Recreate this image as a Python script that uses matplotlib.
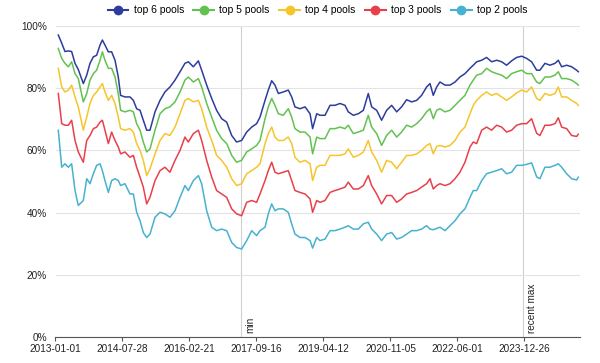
import numpy as np
import matplotlib
matplotlib.use("Agg")
import matplotlib.pyplot as plt
import matplotlib.ticker as mticker
from matplotlib.lines import Line2D

plt.rcParams['font.family'] = ['Liberation Sans', 'DejaVu Sans']

START = np.datetime64("2013-01-01")
END = np.datetime64("2025-04-14")

# days after 2013-01-01 for each sample
days = [24, 53, 81, 110, 138, 167, 195, 238, 267, 295, 324, 352, 381, 401, 423,
        452, 480, 509, 537, 557, 594, 637, 666, 694, 723, 751, 780, 808,
        851, 894, 936, 979, 1022, 1065, 1107, 1136, 1179, 1222, 1250, 1293, 1336,
        1378, 1421, 1464, 1507, 1549, 1592, 1635, 1678, 1720,
        1749, 1792, 1820, 1849, 1877, 1906, 1948, 1991, 2020, 2048, 2091, 2134,
        2177, 2199, 2234, 2262, 2305, 2348, 2390, 2433, 2476, 2504, 2547, 2590, 2633,
        2675, 2704, 2747, 2789, 2832, 2875, 2918, 2960, 3003, 3046, 3089, 3131,
        3174, 3203, 3231, 3260, 3288, 3331, 3374, 3417, 3459, 3502, 3545, 3573,
        3602, 3645, 3687, 3730, 3773, 3816, 3858, 3901, 3944, 3987, 4029, 4072,
        4115, 4143, 4186, 4229, 4272, 4300, 4329, 4372, 4414, 4457, 4471]

top6 = [97.1, 94.5, 91.8, 92.0, 91.8, 88.0, 86.0, 81.5, 84.2, 88.0, 90.1, 90.6, 93.9, 95.5, 93.9,
        91.7, 91.7, 89.0, 83.6, 77.7, 77.2, 77.2, 76.1, 73.4, 72.9, 69.7, 66.5, 66.5,
        72.4, 76.1, 78.8, 80.4, 82.6, 85.3, 88.0, 88.5, 86.9, 88.8, 85.8, 81.0, 76.7,
        72.9, 70.2, 69.1, 64.8, 62.7, 63.2, 65.9, 67.5, 68.6,
        70.7, 76.1, 79.4, 82.4, 81.0, 78.3, 78.8, 79.4, 77.2, 74.0, 73.4, 74.0,
        71.8, 67.0, 71.8, 71.3, 71.3, 74.5, 74.5, 75.1, 74.5, 72.4, 71.3, 71.8, 72.9,
        78.3, 74.0, 72.9, 69.7, 72.9, 74.5, 72.4, 74.0, 76.3, 75.6, 76.1, 77.7,
        80.4, 81.5, 77.7, 80.4, 82.0, 81.0, 81.0, 82.0, 83.6, 84.7, 86.4, 87.4,
        88.5, 89.0, 89.9, 88.5, 89.0, 88.5, 87.4, 88.8, 89.9, 90.3, 89.6, 88.5,
        85.8, 85.8, 88.0, 87.4, 88.0, 89.0, 86.9, 87.4, 86.9, 85.8, 85.3]

top5 = [92.8, 89.6, 88.0, 86.9, 88.5, 84.7, 83.1, 75.6, 78.3, 82.6, 84.7, 85.8, 89.0, 91.7, 89.0,
        86.4, 86.4, 83.6, 78.3, 72.9, 72.4, 72.9, 72.4, 68.6, 66.5, 62.7, 59.5, 60.5,
        66.5, 71.8, 73.4, 74.0, 75.6, 78.8, 82.6, 83.6, 82.0, 83.1, 80.4, 75.1, 70.7,
        66.5, 63.8, 62.2, 58.4, 56.2, 56.8, 59.5, 60.5, 61.6,
        63.2, 70.2, 74.0, 76.7, 74.5, 71.8, 71.3, 73.4, 70.7, 67.0, 65.9, 65.9,
        64.3, 58.9, 64.3, 63.8, 63.8, 67.0, 67.0, 67.5, 67.0, 68.1, 65.4, 65.9, 66.5,
        71.3, 67.5, 65.4, 61.6, 64.8, 66.5, 64.3, 65.9, 68.1, 67.5, 68.6, 70.2,
        72.4, 73.4, 70.2, 72.9, 73.4, 72.4, 72.9, 74.5, 76.1, 77.7, 81.0, 82.6,
        84.2, 84.7, 86.4, 85.3, 84.7, 84.2, 83.1, 84.7, 85.3, 85.8, 84.7, 84.7,
        82.0, 81.5, 83.6, 83.6, 84.2, 85.3, 83.1, 83.1, 82.6, 81.5, 81.0]

top4 = [86.4, 80.4, 78.8, 79.4, 81.0, 77.2, 74.0, 66.5, 70.7, 75.1, 77.7, 78.8, 80.4, 81.5, 78.8,
        76.1, 77.7, 75.1, 70.7, 67.0, 66.5, 67.0, 65.9, 62.2, 60.0, 56.8, 51.9, 54.1,
        58.9, 63.2, 65.4, 64.8, 67.5, 71.8, 76.1, 76.7, 75.6, 76.1, 73.4, 67.5, 63.2,
        58.4, 56.8, 54.6, 50.9, 48.7, 49.3, 52.5, 53.5, 54.6,
        55.7, 62.2, 65.4, 67.5, 64.3, 63.2, 63.2, 64.3, 62.2, 57.8, 56.2, 56.8,
        55.7, 50.3, 54.6, 55.2, 55.2, 58.4, 58.4, 58.4, 58.9, 60.5, 57.8, 58.4, 59.5,
        63.2, 59.5, 56.8, 53.0, 56.8, 56.2, 54.1, 56.2, 58.4, 58.4, 58.9, 60.0,
        61.6, 62.2, 58.9, 61.3, 61.6, 61.1, 61.6, 63.2, 65.9, 67.5, 71.8, 74.5,
        76.1, 77.7, 78.8, 77.7, 78.3, 77.2, 76.1, 77.2, 78.5, 79.4, 78.8, 80.4,
        76.7, 76.1, 78.3, 77.7, 78.3, 80.4, 77.2, 77.2, 76.1, 75.1, 74.5]

top3 = [78.3, 68.6, 68.1, 68.1, 69.7, 63.2, 59.5, 56.2, 63.2, 64.8, 67.0, 67.5, 69.1, 69.7, 66.5,
        62.2, 65.9, 63.2, 61.1, 58.9, 59.5, 57.8, 58.4, 54.6, 51.4, 48.2, 42.8, 44.9,
        50.3, 53.5, 54.6, 53.0, 56.8, 60.0, 64.3, 62.7, 65.4, 66.5, 63.2, 56.8, 51.4,
        47.1, 46.0, 44.9, 41.2, 39.6, 39.0, 43.3, 43.9, 43.3,
        46.0, 50.3, 53.5, 56.2, 53.0, 52.5, 53.0, 53.5, 50.3, 47.1, 46.5, 46.0,
        44.4, 40.1, 43.9, 43.3, 43.9, 46.5, 47.1, 47.6, 48.2, 49.8, 47.6, 47.6, 48.7,
        51.9, 48.7, 46.0, 42.8, 45.5, 45.5, 43.3, 44.4, 46.0, 46.5, 47.1, 48.2,
        49.3, 50.9, 47.6, 48.7, 49.3, 48.7, 49.3, 50.9, 53.0, 56.2, 61.1, 62.7,
        62.2, 66.5, 67.5, 66.5, 68.1, 67.5, 65.9, 66.5, 68.1, 68.6, 68.6, 70.2,
        65.5, 64.8, 68.1, 68.1, 68.6, 70.5, 67.5, 67.0, 64.8, 64.5, 65.2]

top2 = [66.5, 54.6, 55.7, 54.6, 55.7, 47.1, 42.3, 43.9, 50.9, 49.3, 52.5, 55.2, 55.7, 53.5, 50.3,
        46.5, 50.3, 50.9, 50.3, 48.7, 49.3, 46.0, 46.0, 40.1, 37.4, 33.6, 32.0, 33.1,
        38.5, 40.1, 39.6, 38.5, 40.6, 44.9, 48.7, 47.1, 50.3, 51.9, 49.3, 40.6, 35.3,
        34.2, 34.7, 34.2, 30.4, 28.8, 28.3, 31.0, 34.2, 32.6,
        34.2, 35.3, 39.6, 42.8, 40.6, 41.2, 41.2, 40.1, 36.4, 33.1, 32.0, 32.0,
        31.0, 28.6, 32.0, 31.0, 31.5, 34.2, 34.2, 34.7, 35.3, 35.8, 34.7, 34.7, 36.4,
        36.9, 34.7, 33.1, 31.0, 33.1, 33.6, 31.5, 32.0, 33.1, 34.2, 34.2, 34.7,
        35.8, 34.7, 34.5, 34.9, 35.3, 34.2, 35.8, 37.4, 39.6, 41.2, 44.9, 47.1,
        47.1, 50.3, 52.5, 53.0, 53.5, 54.1, 52.5, 53.0, 55.2, 55.2, 55.5, 56.0,
        51.5, 50.9, 54.6, 54.6, 55.2, 55.7, 54.6, 52.5, 50.9, 50.5, 51.4]

series = [("top 6 pools", top6, "#2d3d9c"),
          ("top 5 pools", top5, "#62c250"),
          ("top 4 pools", top4, "#f6c52b"),
          ("top 3 pools", top3, "#e8404a"),
          ("top 2 pools", top2, "#47b2cf")]

tick_labels = ["2013-01-01", "2014-07-28", "2016-02-21", "2017-09-16",
               "2019-04-12", "2020-11-05", "2022-06-01", "2023-12-26"]

markers = [("2017-05-06", "min"), ("2023-12-15", "recent max")]

dates = START + np.array(days).astype("timedelta64[D]")

fig = plt.figure(figsize=(6, 3.63), dpi=100)
fig.patch.set_facecolor("white")
ax = fig.add_axes([0.0925, 0.0716, 0.8742, 0.8567])

for name, vals, color in series:
    ax.plot(dates, np.array(vals) / 100, color=color, linewidth=1.1, label=name)

for d, txt in markers:
    dt = np.datetime64(d)
    ax.axvline(dt, color="#d0d0d0", linewidth=0.8, zorder=0)
    ax.annotate(txt, xy=(dt, 0), xytext=(3, 3), textcoords="offset points",
                rotation=90, ha="left", va="bottom", fontsize=7.2, color="#222222")

ax.set_xlim(START, END)
ax.set_ylim(0, 1)
ax.set_yticks([0, 0.2, 0.4, 0.6, 0.8, 1.0])
ax.yaxis.set_major_formatter(mticker.PercentFormatter(1.0, decimals=0))
ax.set_xticks([np.datetime64(t) for t in tick_labels])
ax.set_xticklabels(tick_labels)

ax.grid(axis="y", color="#e3e3e3", linewidth=0.8)
ax.set_axisbelow(True)
for s in ["top", "right", "left"]:
    ax.spines[s].set_visible(False)
ax.spines["bottom"].set_color("#555555")
ax.spines["bottom"].set_linewidth(0.8)
ax.tick_params(axis="y", length=0, pad=6, labelsize=7.2, colors="#222222")
ax.tick_params(axis="x", length=3, width=0.8, color="#555555", pad=2,
               labelsize=7.2, labelcolor="#222222")

handles = [Line2D([0], [0], color=c, linewidth=1.5, marker="o", markersize=6,
                  markerfacecolor=c, markeredgecolor=c) for _, _, c in series]
fig.legend(handles, [n for n, _, _ in series], loc="center",
           bbox_to_anchor=(0.529, 0.972), ncol=5, frameon=False, fontsize=7.5,
           handlelength=2.0, handletextpad=0.5, columnspacing=0.9)

fig.savefig("out.png", dpi=100)
